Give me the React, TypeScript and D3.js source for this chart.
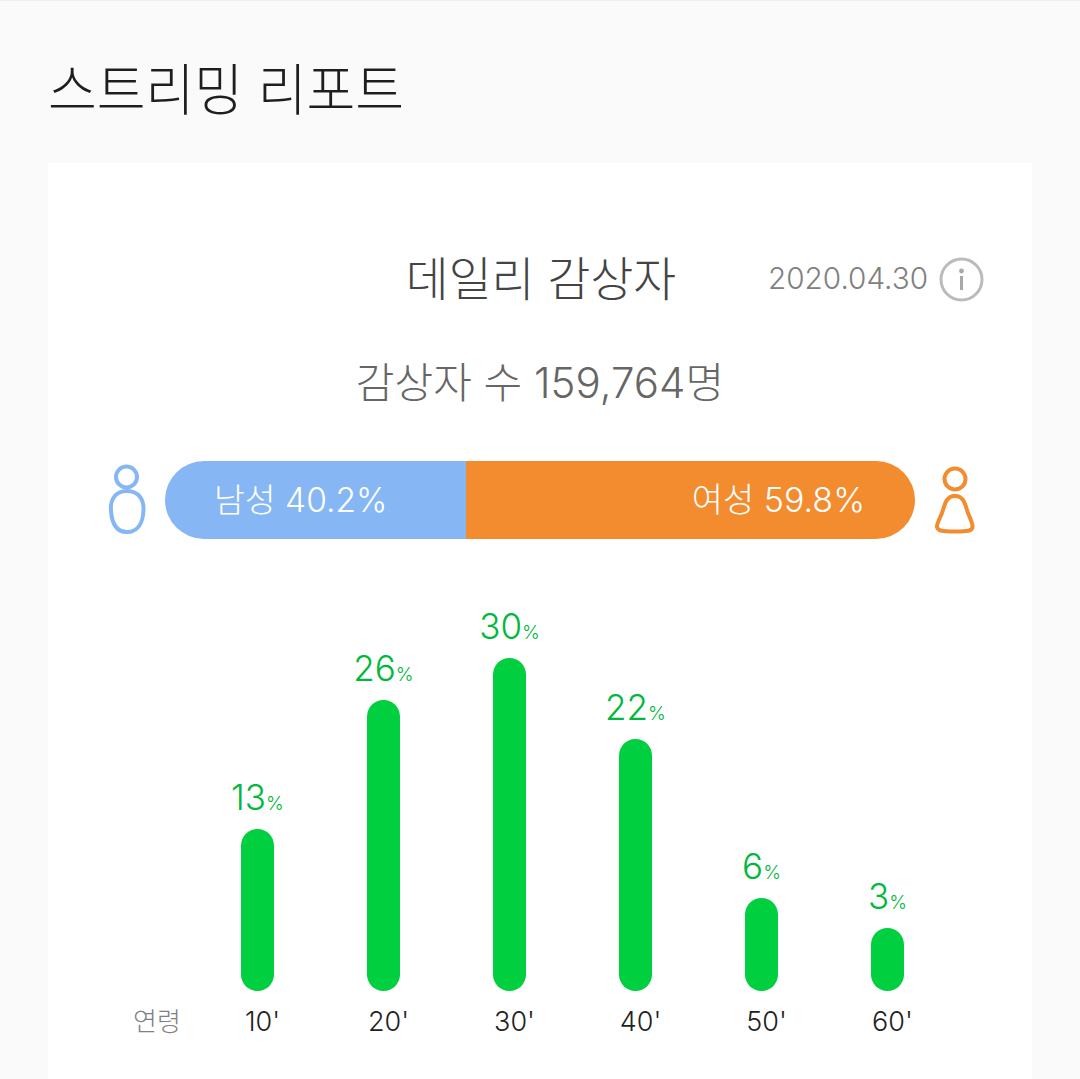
import React from "react";
import * as d3 from "d3";

const ageLabels = ["10'", "20'", "30'", "40'", "50'", "60'"];
const agePercents = [12.9, 25.8, 30, 21.9, 6, 3];
const genderNames = ["남성", "여성"];
const genderPercents = [40.2, 59.8];

const FONT = "Inter, 'Noto Sans CJK KR', 'Noto Sans', sans-serif";
const W = 1080;
const H = 1079;

const x = d3.scalePoint<string>().domain(ageLabels).range([257.5, 887.5]);
const y = d3.scaleLinear().domain([0, 30]).range([958, 658]);
const BAR_W = 33;
const BASE = 991;
const gx = d3.scaleLinear().domain([0, 100]).range([165, 915]);

export default function App() {
  const splitX = Math.floor(gx(genderPercents[0]));
  return (
    <svg
      width={W}
      height={H}
      viewBox={`0 0 ${W} ${H}`}
      style={{ position: "fixed", left: 0, top: 0, display: "block", fontFamily: FONT }}
    >
      <defs>
        <clipPath id="pill">
          <rect x={165} y={461} width={750} height={78} rx={39} />
        </clipPath>
      </defs>
      <rect x={0} y={0} width={W} height={H} fill="#fafafa" />
      <rect x={0} y={0} width={W} height={1} fill="#eeeeee" />
      <rect x={48} y={163} width={984} height={H - 163} fill="#ffffff" />

      <text x={48} y={110} fontSize={56} fontWeight={300} fill="#1e1e1e" textLength={356} lengthAdjust="spacingAndGlyphs">스트리밍 리포트</text>

      <text x={541} y={296} textAnchor="middle" fontSize={46.6} fontWeight={300} fill="#444444">데일리 감상자</text>
      <text x={768} y={289} fontSize={30} fontWeight={300} fill="#808080" textLength={160} lengthAdjust="spacingAndGlyphs">2020.04.30</text>
      <circle cx={961.5} cy={279.5} r={20.5} fill="none" stroke="#bbbbbb" strokeWidth={3} />
      <circle cx={961.5} cy={271} r={2.4} fill="#a8a8a8" />
      <rect x={960} y={276} width={3} height={14} fill="#a8a8a8" />

      <text x={540} y={398} textAnchor="middle" fontSize={42} fontWeight={300} fill="#666666">감상자 수 159,764명</text>

      <g clipPath="url(#pill)">
        <rect x={gx(0)} y={461} width={splitX - gx(0)} height={78} fill="#86b7f4" />
        <rect x={splitX} y={461} width={gx(100) - splitX} height={78} fill="#f28c2f" />
      </g>
      <text x={214} y={512} fontSize={33.5} fontWeight={300} fill="#ffffff">{genderNames[0]} {genderPercents[0].toFixed(1)}%</text>
      <text x={865} y={512} textAnchor="end" fontSize={34} fontWeight={300} fill="#ffffff">{genderNames[1]} {genderPercents[1].toFixed(1)}%</text>

      <g fill="none" stroke="#86b7f4" strokeWidth={4}>
        <circle cx={126.5} cy={477} r={10.5} />
        <path d="M127 491 C139 491 144 500 143.5 510 C143 524 137 532 127 532 C117 532 112 525 111 511 C110 500 115 491 127 491 Z" />
      </g>
      <g fill="none" stroke="#f28c2f" strokeWidth={4}>
        <circle cx={955} cy={479} r={10.5} />
        <path d="M955 496 C963 496 965 503 967 510 C969 517 973 523 972.5 527 C972 531 968 531.5 955 531.5 C942 531.5 938 531 937 527 C936.5 523 941 517 943 510 C945 503 947 496 955 496 Z" />
      </g>

      {ageLabels.map((label, i) => {
        const v = agePercents[i];
        const cx = x(label)!;
        const top = y(v);
        return (
          <g key={label}>
            <rect x={cx - BAR_W / 2} y={top} width={BAR_W} height={BASE - top} rx={BAR_W / 2} fill="#00cf3f" />
            <text x={cx} y={top - 19} textAnchor="middle" fill="#00b83c" fontWeight={300}>
              <tspan fontSize={35}>{Math.round(v)}</tspan>
              <tspan fontSize={19}>%</tspan>
            </text>
            <text x={cx + 5} y={1031} textAnchor="middle" fontSize={27} fontWeight={300} fill="#222222">{label}</text>
          </g>
        );
      })}
      <text x={133} y={1031} fontSize={26} fontWeight={300} fill="#808080">연령</text>
    </svg>
  );
}
